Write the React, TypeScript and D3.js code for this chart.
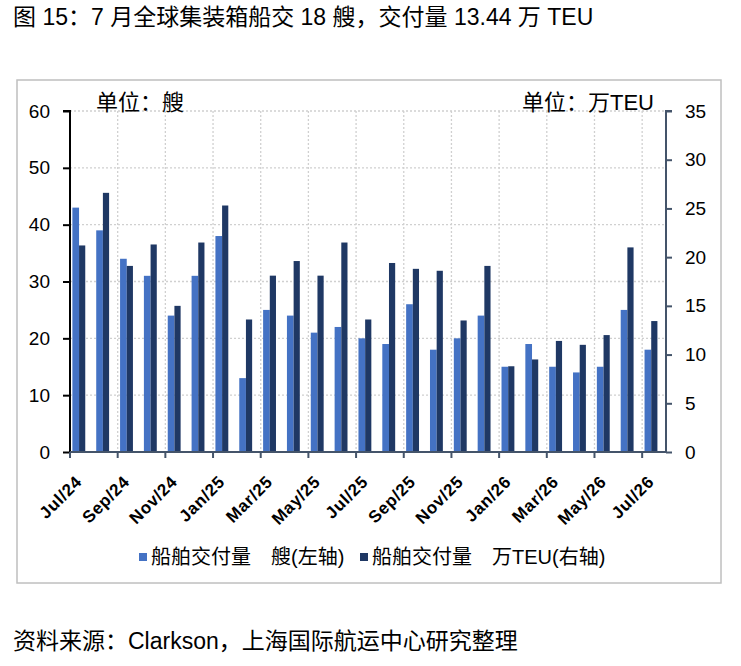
import React, { useEffect, useRef } from "react";
import * as d3 from "d3";

// 月份（2024年7月 - 2026年7月）
const months = [
  "Jul/24", "Aug/24", "Sep/24", "Oct/24", "Nov/24", "Dec/24",
  "Jan/25", "Feb/25", "Mar/25", "Apr/25", "May/25", "Jun/25",
  "Jul/25", "Aug/25", "Sep/25", "Oct/25", "Nov/25", "Dec/25",
  "Jan/26", "Feb/26", "Mar/26", "Apr/26", "May/26", "Jun/26", "Jul/26",
];

// 船舶交付量 艘（左轴）
const ships = [43, 39, 34, 31, 24, 31, 38, 13, 25, 24, 21, 22, 20, 19, 26, 18, 20, 24, 15, 19, 15, 14, 15, 25, 18];

// 船舶交付量 万TEU（右轴）
const teu = [21.2, 26.6, 19.1, 21.3, 15.0, 21.5, 25.3, 13.6, 18.1, 19.6, 18.1, 21.5, 13.6, 19.4, 18.8, 18.6, 13.5, 19.1, 8.8, 9.5, 11.4, 11.0, 12.0, 21.0, 13.44];

const leftTicks = [0, 10, 20, 30, 40, 50, 60];
const rightTicks = [0, 5, 10, 15, 20, 25, 30, 35];

const FONT = '"Liberation Sans", Arial, "Noto Sans CJK SC", sans-serif';
const LIGHT = "#4472c4";
const DARK = "#1f3864";
const AXIS = "#44546a";

export default function App() {
  const ref = useRef<SVGSVGElement>(null);

  useEffect(() => {
    const svg = d3.select(ref.current);
    svg.selectAll("*").remove();

    const width = 741, height = 666;
    const plot = { left: 70, right: 666, top: 111, bottom: 452 };

    svg.attr("width", width).attr("height", height).style("font-family", FONT);

    // 标题
    svg.append("text").attr("x", 13).attr("y", 25).attr("font-size", 23)
      .text("图 15：7 月全球集装箱船交 18 艘，交付量 13.44 万 TEU");

    // 外框
    svg.append("rect").attr("x", 17).attr("y", 80).attr("width", 704).attr("height", 503)
      .attr("fill", "none").attr("stroke", "#bfbfbf").attr("stroke-width", 1.5);

    const x = d3.scaleBand<string>().domain(months).range([plot.left, plot.right]).padding(0);
    const yL = d3.scaleLinear().domain([0, 60]).range([plot.bottom, plot.top]);
    const yR = d3.scaleLinear().domain([0, 35]).range([plot.bottom, plot.top]);
    const bw = x.bandwidth();

    const labelled = months.filter((_, i) => i % 2 === 0);

    // 网格线
    const grid = svg.append("g").attr("stroke", "#d0d0d0").attr("stroke-width", 1.3).attr("stroke-dasharray", "2,2");
    leftTicks.filter(d => d > 0).forEach(d => {
      grid.append("line").attr("x1", plot.left).attr("x2", plot.right).attr("y1", yL(d)).attr("y2", yL(d));
    });
    labelled.slice(1).forEach(m => {
      grid.append("line").attr("x1", x(m)!).attr("x2", x(m)!).attr("y1", plot.top).attr("y2", plot.bottom);
    });

    // 柱子
    const bars = svg.append("g");
    months.forEach((m, i) => {
      const x0 = x(m)!;
      bars.append("rect").attr("x", x0 + bw * 0.1).attr("width", bw * 0.28)
        .attr("y", yL(ships[i])).attr("height", yL(0) - yL(ships[i])).attr("fill", LIGHT);
      bars.append("rect").attr("x", x0 + bw * 0.38).attr("width", bw * 0.26)
        .attr("y", yR(teu[i])).attr("height", yR(0) - yR(teu[i])).attr("fill", DARK);
    });

    // 左轴
    const gl = svg.append("g").attr("transform", `translate(${plot.left},0)`)
      .call(d3.axisLeft(yL).tickValues(leftTicks).tickSize(7).tickPadding(13).tickFormat(d3.format("d")));
    gl.select(".domain").attr("stroke", "#000").attr("stroke-width", 2).attr("d", `M-7,${plot.top}H0V${plot.bottom}`);
    gl.selectAll(".tick line").attr("stroke", "#000").attr("stroke-width", 2);
    gl.selectAll(".tick text").attr("font-size", 19).attr("font-family", FONT).attr("fill", "#000");

    // 右轴
    const gr = svg.append("g").attr("transform", `translate(${plot.right},0)`)
      .call(d3.axisRight(yR).tickValues(rightTicks).tickSize(6).tickPadding(13).tickFormat(d3.format("d")));
    gr.select(".domain").attr("stroke", AXIS).attr("stroke-width", 2).attr("d", `M6,${plot.top}H0V${plot.bottom}`);
    gr.selectAll(".tick line").attr("stroke", AXIS).attr("stroke-width", 2);
    gr.selectAll(".tick text").attr("font-size", 19).attr("font-family", FONT).attr("fill", "#000");

    // X轴
    const gx = svg.append("g");
    gx.append("line").attr("x1", plot.left).attr("x2", plot.right).attr("y1", plot.bottom).attr("y2", plot.bottom)
      .attr("stroke", AXIS).attr("stroke-width", 2);
    labelled.forEach(m => {
      gx.append("line").attr("x1", x(m)!).attr("x2", x(m)!).attr("y1", plot.bottom).attr("y2", plot.bottom + 6)
        .attr("stroke", AXIS).attr("stroke-width", 2);
      const cx = x(m)! + bw / 2 + 1;
      gx.append("text").attr("transform", `translate(${cx},483) rotate(-45)`)
        .attr("text-anchor", "end").attr("font-size", 17).attr("font-weight", "bold")
        .attr("letter-spacing", 0.6).text(m);
    });

    // 单位
    svg.append("text").attr("x", 96).attr("y", 110).attr("font-size", 22).text("单位：艘");
    svg.append("text").attr("x", 654).attr("y", 110).attr("font-size", 22).attr("text-anchor", "end").text("单位：万TEU");

    // 图例
    const legend = svg.append("g").attr("font-size", 20);
    legend.append("rect").attr("x", 139).attr("y", 553).attr("width", 8).attr("height", 8).attr("fill", LIGHT);
    legend.append("text").attr("x", 151).attr("y", 564).text("船舶交付量　艘(左轴)");
    legend.append("rect").attr("x", 360).attr("y", 553).attr("width", 8).attr("height", 8).attr("fill", DARK);
    legend.append("text").attr("x", 372).attr("y", 564).text("船舶交付量　万TEU(右轴)");

    // 资料来源
    svg.append("text").attr("x", 13).attr("y", 649).attr("font-size", 23)
      .text("资料来源：Clarkson，上海国际航运中心研究整理");
  }, []);

  return <svg ref={ref} style={{ position: "absolute", left: 0, top: 0 }} />;
}
